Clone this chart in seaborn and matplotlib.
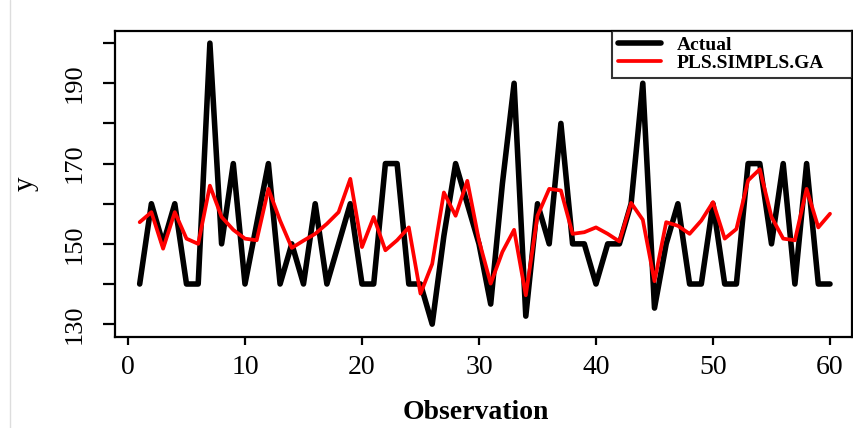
import matplotlib
matplotlib.use('Agg')
import matplotlib.pyplot as plt
import seaborn as sns
import pandas as pd
from matplotlib.lines import Line2D

# values
observation = list(range(1, 61))
actual = [140, 160, 150, 160, 140, 140, 200, 150, 170, 140,
          155, 170, 140, 150, 140, 160, 140, 150, 160, 140,
          140, 170, 170, 140, 140, 130, 152, 170, 160, 150,
          135, 165, 190, 132, 160, 150, 180, 150, 150, 140,
          150, 150, 160, 190, 134, 150, 160, 140, 140, 160,
          140, 140, 170, 170, 150, 170, 140, 170, 140, 140]
predicted = [155.4, 157.9, 148.8, 157.9, 151.3, 150.0, 164.5, 156.7, 153.5, 151.3,
             150.9, 163.7, 155.8, 149.0, 150.8, 152.5, 155.0, 157.9, 166.2, 149.2,
             156.7, 148.4, 150.9, 154.1, 137.6, 145.0, 162.8, 157.0, 165.7, 150.8,
             140.1, 148.0, 153.5, 137.2, 157.0, 163.7, 163.3, 152.5, 152.9, 154.1,
             152.5, 150.6, 160.2, 156.0, 140.7, 155.4, 154.5, 152.5, 155.8, 160.4,
             151.3, 153.7, 165.8, 168.6, 156.7, 151.3, 150.9, 163.7, 154.1, 157.5]
series_names = ['Actual', 'PLS.SIMPLS.GA']
x_ticks = [0, 10, 20, 30, 40, 50, 60]
y_ticks = [130, 140, 150, 160, 170, 180, 190, 200]
y_tick_labels = ['130', '', '150', '', '170', '', '190', '']

df = pd.DataFrame({'Observation': observation, 'Actual': actual, 'PLS.SIMPLS.GA': predicted})

sns.set_style('ticks')
plt.rcParams['font.family'] = ['Liberation Serif', 'DejaVu Serif']
plt.rcParams['text.color'] = 'black'
plt.rcParams['axes.labelcolor'] = 'black'
plt.rcParams['xtick.color'] = 'black'
plt.rcParams['ytick.color'] = 'black'

fig = plt.figure(figsize=(8.54, 4.28), dpi=100)
ax = fig.add_axes([115 / 854, 1 - 337 / 428, 737 / 854, 306.3 / 428])

sns.lineplot(data=df, x='Observation', y='Actual', color='black', linewidth=4.0,
             label=series_names[0], ax=ax)
sns.lineplot(data=df, x='Observation', y='PLS.SIMPLS.GA', color='red', linewidth=2.7,
             label=series_names[1], ax=ax)

ax.set_xlim(-1.11, 61.88)
ax.set_ylim(126.8, 203.1)
ax.set_xticks(x_ticks)
ax.set_xticklabels([str(t) for t in x_ticks], fontsize=20)
ax.set_yticks(y_ticks)
ax.set_yticklabels(y_tick_labels, fontsize=19, rotation=90, va='center')
ax.tick_params(axis='x', length=6, width=1.6, pad=7)
ax.tick_params(axis='y', length=9, width=1.6, pad=12)

for s in ax.spines.values():
    s.set_linewidth(1.6)
    s.set_color('black')

ax.set_xlabel('Observation', fontsize=20, fontweight='bold')
ax.xaxis.set_label_coords(0.4889, -0.205)
ax.set_ylabel('y', fontsize=21)
ax.yaxis.set_label_coords(-0.104, 0.5)

leg = ax.legend(loc='upper left', bbox_to_anchor=((612 - 115) / 737, 1.0, (852 - 612) / 737, 0),
                mode='expand', borderaxespad=0, frameon=True, fancybox=False, edgecolor='black',
                prop={'family': 'Liberation Serif', 'weight': 'bold', 'size': 14},
                handlelength=2.2, handletextpad=0.85, labelspacing=0.0, borderpad=0.3)
leg.get_frame().set_linewidth(1.5)

# faint screenshot edge on the left
fig.add_artist(Line2D([10 / 854, 10 / 854], [0, 1], color='#dddddd', linewidth=1))

fig.savefig('out.png', dpi=100)
